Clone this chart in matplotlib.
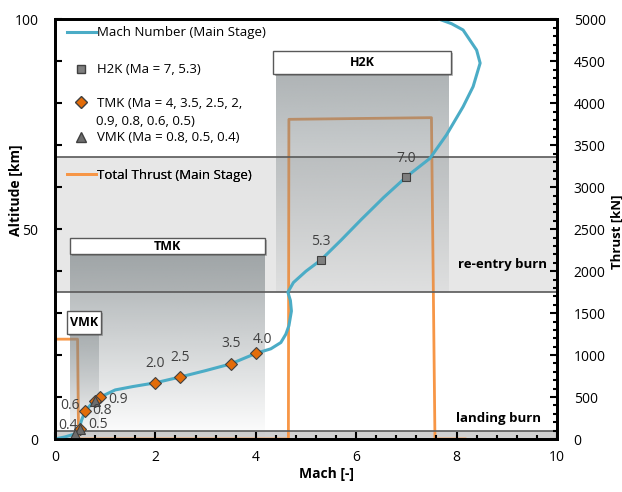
import numpy as np
import matplotlib
matplotlib.use("Agg")
import matplotlib.pyplot as plt
import matplotlib.patheffects as pe
from matplotlib.patches import Rectangle
from matplotlib.lines import Line2D
from matplotlib.ticker import MultipleLocator

plt.rcParams['font.family'] = ['Open Sans', 'DejaVu Sans']

# Mach number of main stage vs altitude
machCurve = [0.0, 0.2, 0.4, 0.48, 0.53, 0.6, 0.7, 0.8, 0.9, 1.2, 1.55, 2.0, 2.5, 3.0, 3.5, 4.0,
             4.3, 4.5, 4.6, 4.66, 4.71, 4.69, 4.64, 4.75, 5.0, 5.3, 5.7, 6.1, 6.55, 7.0, 7.47,
             7.8, 8.13, 8.33, 8.47, 8.4, 8.13, 7.9, 7.67]
altCurve = [0.0, 0.5, 1.2, 2.5, 4.5, 6.6, 8.0, 9.0, 10.0, 11.7, 12.5, 13.4, 14.8, 16.3, 17.9, 20.4,
            21.5, 23.0, 25.0, 27.0, 30.5, 33.0, 35.0, 37.3, 40.0, 42.7, 47.4, 52.3, 57.6, 62.5, 66.9,
            72.5, 79.2, 84.0, 89.6, 92.7, 97.5, 99.0, 100.0]

# total thrust of main stage
machThrust = [0.0, 0.45, 0.47, 4.65, 4.66, 7.5, 7.57, 8.17]
thrust = [1190, 1190, 0, 0, 3810, 3830, 0, 0]

h2kMach = [5.3, 7.0]
h2kAlt = [42.7, 62.5]
h2kLabels = ["5.3", "7.0"]

tmkMach = [4.0, 3.5, 2.5, 2.0, 0.9, 0.8, 0.6, 0.5]
tmkAlt = [20.4, 17.9, 14.8, 13.4, 10.0, 9.0, 6.6, 2.5]
tmkLabels = ["4.0", "3.5", "2.5", "2.0", "0.9", "0.8", "0.6", "0.5"]

vmkMach = [0.8, 0.5, 0.4]
vmkAlt = [9.0, 2.5, 1.3]
vmkLabels = ["", "", "0.4"]

# label offsets in points
h2kOffsets = [(0, 13), (0, 13)]
tmkOffsets = [(5, 10), (0, 15), (0, 14), (0, 14), (13, -1.5), (5, -7), (-11, 4.5), (13, 3)]
vmkOffsets = [(0, 0), (0, 0), (-5, 6)]

BLUE = '#4BACC6'
ORANGE = '#F79646'
DARK = '#595959'

fig = plt.figure(figsize=(6.22, 4.92), dpi=100)
ax = fig.add_axes([0.0884, 0.1077, 0.807, 0.8527])
ax2 = ax.twinx()
ax2.set_ylim(0, 5000)


def gradient(x0, x1, y0, y1, aTop, aBot, color='#7d8588'):
    rgba = np.zeros((256, 1, 4))
    rgba[:, :, :3] = matplotlib.colors.to_rgb(color)
    rgba[:, 0, 3] = np.linspace(aTop, aBot, 256)
    ax.imshow(rgba, extent=(x0, x1, y0, y1), aspect='auto', origin='upper',
              interpolation='bilinear', zorder=0.6)


def labelBox(x0, x1, y0, y1, text):
    r = Rectangle((x0, y0), x1 - x0, y1 - y0, facecolor='white', edgecolor=DARK, lw=1, zorder=2,
                  path_effects=[pe.SimplePatchShadow(offset=(1.5, -1.5), alpha=0.35), pe.Normal()])
    ax.add_patch(r)
    ax.text((x0 + x1) / 2, (y0 + y1) / 2, text, ha='center', va='center', fontsize=9,
            fontweight='bold', zorder=2.1)


# burn bands
ax.axhspan(35, 67.2, color='#e7e7e7', zorder=0.2, lw=0)
ax.axhspan(0, 1.9, color='#d0d0d0', zorder=0.2, lw=0)
for h in [35, 67.2, 1.9]:
    ax.axhline(h, color='#595959', lw=1.2, zorder=1.5)

# thrust line on thrust scale (under the shaded regions)
ax.plot(machThrust, thrust, color=ORANGE, lw=2, zorder=0.4, transform=ax2.transData)

gradient(0.3, 4.18, 0, 44.1, 0.68, 0.0)
gradient(0.3, 0.86, 0, 25.0, 0.45, 0.0)
gradient(4.4, 7.83, 35, 87.0, 0.62, 0.08)

labelBox(4.34, 7.89, 87.0, 92.5, "H2K")
labelBox(0.30, 4.18, 44.1, 47.9, "TMK")
labelBox(0.24, 0.92, 25.0, 30.5, "VMK")

ax.text(9.8, 41.5, "re-entry burn", ha='right', va='center', fontsize=9.5, fontweight='bold', zorder=3)
ax.text(9.68, 4.8, "landing burn", ha='right', va='center', fontsize=9.5, fontweight='bold', zorder=3)

ax.plot(machCurve, altCurve, color=BLUE, lw=2.2, zorder=3)
ax.plot(h2kMach, h2kAlt, 's', ms=5.5, mfc='#7f7f7f', mec='#404040', mew=0.8, ls='none', zorder=4)
ax.plot(tmkMach, tmkAlt, 'D', ms=6, mfc='#E36C09', mec='#404040', mew=0.8, ls='none', zorder=4)
ax.plot(vmkMach, vmkAlt, '^', ms=7.5, mfc='#6d6d6d', mec='#404040', mew=0.8, ls='none', zorder=4.5)

for xs, ys, labs, offs in [(h2kMach, h2kAlt, h2kLabels, h2kOffsets),
                           (tmkMach, tmkAlt, tmkLabels, tmkOffsets),
                           (vmkMach, vmkAlt, vmkLabels, vmkOffsets)]:
    for x, y, lab, off in zip(xs, ys, labs, offs):
        if lab:
            ax.annotate(lab, (x, y), xytext=off, textcoords='offset points', ha='center',
                        va='center', fontsize=10, color='#404040', zorder=5)

# legend entries, placed one by one
legendItems = [
    (Line2D([], [], color=BLUE, lw=2.2), "Mach Number (Main Stage)", 0.968),
    (Line2D([], [], marker='s', ms=5.5, mfc='#7f7f7f', mec='#404040', ls='none'), "H2K (Ma = 7, 5.3)", 0.880),
    (Line2D([], [], marker='D', ms=6, mfc='#E36C09', mec='#404040', ls='none'), "TMK (Ma = 4, 3.5, 2.5, 2,", 0.800),
    (Line2D([], [], marker='^', ms=7.5, mfc='#6d6d6d', mec='#404040', ls='none'), "VMK (Ma = 0.8, 0.5, 0.4)", 0.7175),
    (Line2D([], [], color=ORANGE, lw=2), "Total Thrust (Main Stage)", 0.629),
]
for handle, text, yy in legendItems:
    leg = ax.legend([handle], [text], loc='center left', bbox_to_anchor=(0.0239, yy), frameon=False,
                    borderpad=0, borderaxespad=0, handlelength=2.2, handletextpad=0.1, fontsize=9.5)
    leg.set_zorder(6)
    ax.add_artist(leg)
ax.text(0.0817, 0.757, "0.9, 0.8, 0.6, 0.5)", transform=ax.transAxes, ha='left', va='center',
        fontsize=9.5, zorder=6)

ax.set_xlim(0, 10)
ax.set_ylim(0, 100)
ax2.set_ylim(0, 5000)

ax.xaxis.set_major_locator(MultipleLocator(2))
ax.xaxis.set_minor_locator(MultipleLocator(0.4))
ax.yaxis.set_major_locator(MultipleLocator(50))
ax.yaxis.set_minor_locator(MultipleLocator(10))
ax2.yaxis.set_major_locator(MultipleLocator(500))
ax2.yaxis.set_minor_locator(MultipleLocator(100))

for a in (ax, ax2):
    a.tick_params(which='both', direction='in', width=1.5, labelsize=10, pad=8)
    a.tick_params(which='major', length=5)
    a.tick_params(which='minor', length=3)
    for s in a.spines.values():
        s.set_linewidth(2)
ax.tick_params(which='minor', axis='y', length=5)
ax.tick_params(axis='y', pad=12)
ax2.tick_params(axis='y', pad=12)

ax.set_xlabel("Mach [-]", fontsize=10, fontweight='bold')
ax.set_ylabel("Altitude [km]", fontsize=10, fontweight='bold')
ax2.set_ylabel("Thrust [kN]", fontsize=9.5, fontweight='bold')
ax.xaxis.set_label_coords(0.54, -0.066)
ax.yaxis.set_label_coords(-0.063, 0.594)
ax2.yaxis.set_label_coords(1.106, 0.493)

fig.savefig("out.png", dpi=100)
